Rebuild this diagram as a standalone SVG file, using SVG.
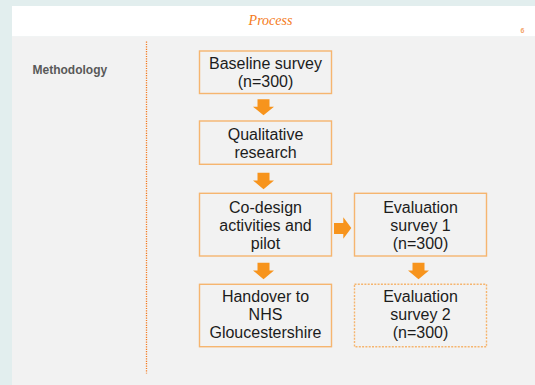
<svg xmlns="http://www.w3.org/2000/svg" width="535" height="385" viewBox="0 0 535 385">
<defs>
<style>
.box{fill:none;stroke:#f6b56f;stroke-width:1.4}
.dot{stroke-dasharray:2 1.3}
.t{font-family:"Liberation Sans",Arial,sans-serif;font-size:16px;fill:#1c1c1c;text-anchor:middle}
.arr{fill:#f7941d}
</style>
</defs>
<rect x="0" y="0" width="535" height="385" fill="#e2eeee"/>
<rect x="12" y="6" width="523" height="30.5" fill="#ffffff"/>
<rect x="12" y="36.5" width="523" height="348.5" fill="#f2f2f2"/>
<text x="270.5" y="25" font-family="'Liberation Serif','Times New Roman',serif" font-style="italic" font-size="14" fill="#f47b20" text-anchor="middle">Process</text>
<text x="522.5" y="33" font-family="'Liberation Sans',Arial,sans-serif" font-weight="bold" font-size="7" fill="#f5a36a" text-anchor="middle">6</text>
<text x="32.5" y="73.5" font-family="'Liberation Sans',Arial,sans-serif" font-weight="bold" font-size="12" fill="#595959">Methodology</text>
<line x1="146.5" y1="41.5" x2="146.5" y2="373.5" stroke="#f47b20" stroke-width="1.3" stroke-dasharray="1.2 1.2"/>
<g id="n1"><rect class="box" x="199.5" y="51" width="132" height="42.5"/><text class="t" x="265.5" y="69.3">Baseline survey</text><text class="t" x="265.5" y="87.3">(n=300)</text></g>
<g id="n2"><rect class="box" x="199.5" y="121" width="132" height="43.3"/><text class="t" x="265.5" y="140">Qualitative</text><text class="t" x="265.5" y="158">research</text></g>
<g id="n3"><rect class="box" x="199.5" y="193.3" width="132" height="62.7"/><text class="t" x="265.5" y="212.5">Co-design</text><text class="t" x="265.5" y="230.5">activities and</text><text class="t" x="265.5" y="248.5">pilot</text></g>
<g id="n4"><rect class="box" x="354.5" y="193.3" width="132" height="62.7"/><text class="t" x="420.5" y="212.5">Evaluation</text><text class="t" x="420.5" y="230.5">survey 1</text><text class="t" x="420.5" y="248.5">(n=300)</text></g>
<g id="n5"><rect class="box" x="199.5" y="284.3" width="132" height="62.4"/><text class="t" x="265.5" y="302.3">Handover to</text><text class="t" x="265.5" y="320.3">NHS</text><text class="t" x="265.5" y="338.3">Gloucestershire</text></g>
<g id="n6"><rect class="box dot" x="354.5" y="284.3" width="132" height="62.4"/><text class="t" x="420.5" y="302.3">Evaluation</text><text class="t" x="420.5" y="320.3">survey 2</text><text class="t" x="420.5" y="338.3">(n=300)</text></g>
<g id="connectors">
<polygon class="arr" points="257.5,99.3 269.5,99.3 269.5,106.7 274,106.7 263.5,115.3 253,106.7 257.5,106.7"/>
<polygon class="arr" points="257.5,172.7 269.5,172.7 269.5,180.5 274,180.5 263.5,189.3 253,180.5 257.5,180.5"/>
<polygon class="arr" points="257.5,262.7 269.5,262.7 269.5,270.5 274,270.5 263.5,279.3 253,270.5 257.5,270.5"/>
<polygon class="arr" points="412.5,262.7 424.5,262.7 424.5,270.5 429,270.5 418.5,279.3 408,270.5 412.5,270.5"/>
<polygon class="arr" points="334,223 343.3,223 343.3,217.3 351.3,228 343.3,238.7 343.3,234 334,234"/>
</g>
</svg>
